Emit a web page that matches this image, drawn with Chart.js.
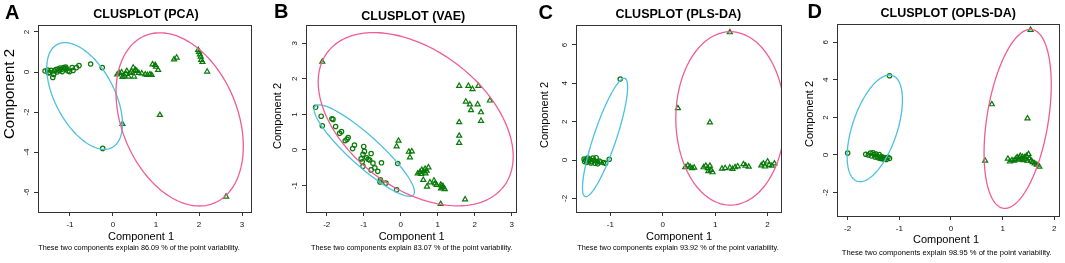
<!DOCTYPE html>
<html>
<head>
<meta charset="utf-8">
<script src="https://cdn.jsdelivr.net/npm/chart.js@4.4.1/dist/chart.umd.min.js"></script>
<style>
  body { margin: 0; background: #fff; }
  #wrap { position: relative; width: 1065px; height: 263px; overflow: hidden; }
  canvas { position: absolute; top: 0; }
</style>
</head>
<body>
<div id="wrap">
  <canvas id="cA" width="265" height="263" style="left:0px"></canvas>
  <canvas id="cB" width="265" height="263" style="left:265px"></canvas>
  <canvas id="cC" width="265" height="263" style="left:530px"></canvas>
  <canvas id="cD" width="270" height="263" style="left:795px"></canvas>
</div>
<script>
// titles and labels
const letters = ["A", "B", "C", "D"];
const titles = ["CLUSPLOT (PCA)", "CLUSPLOT (VAE)", "CLUSPLOT (PLS-DA)", "CLUSPLOT (OPLS-DA)"];
const variability = ["86.09", "83.07", "93.92", "98.95"];

// tick labels
const xTicksA = [-1, 0, 1, 2, 3];
const yTicksA = [2, 0, -2, -4, -6];
const xTicksB = [-2, -1, 0, 1, 2, 3];
const yTicksB = [3, 2, 1, 0, -1];
const xTicksC = [-1, 0, 1, 2];
const yTicksC = [6, 4, 2, 0, -2];
const xTicksD = [-2, -1, 0, 1, 2];
const yTicksD = [6, 4, 2, 0, -2];

// cluster 1 (circles) and cluster 2 (triangles), [component 1, component 2]
const circlesA = [[-1.58,0.05],[-1.52,0.1],[-1.5,-0.05],[-1.47,-0.02],[-1.44,0.08],[-1.4,-0.27],[-1.38,-0.12],[-1.36,0.05],[-1.33,0.12],[-1.3,0.0],[-1.28,0.15],[-1.25,0.08],[-1.23,0.2],[-1.2,0.12],[-1.18,0.02],[-1.15,0.22],[-1.12,0.18],[-1.1,0.25],[-1.08,0.15],[-1.05,0.05],[-1.01,0.02],[-0.95,0.22],[-0.93,0.08],[-0.85,0.22],[-0.79,0.32],[-0.52,0.4],[-0.25,0.22],[-0.24,-3.82]];
const trianglesA = [[0.1,-0.12],[0.15,-0.05],[0.2,-0.02],[0.22,-0.25],[0.26,-0.18],[0.3,-0.1],[0.32,0.05],[0.36,-0.23],[0.4,-0.05],[0.43,0.02],[0.47,0.22],[0.49,-0.23],[0.52,0.1],[0.55,0.05],[0.6,-0.05],[0.67,-0.07],[0.75,-0.12],[0.8,-0.15],[0.86,-0.12],[0.9,-0.15],[0.92,0.38],[0.98,0.35],[1.0,0.27],[1.05,0.1],[1.42,0.63],[1.48,0.72],[1.98,1.1],[2.0,1.0],[2.02,0.88],[2.04,0.77],[2.05,0.6],[2.08,0.5],[2.19,0.02],[1.09,-2.15],[0.22,-2.6],[2.63,-6.23]];

const circlesB = [[-2.3,1.2],[-2.15,0.95],[-2.12,0.68],[-1.86,0.88],[-1.83,0.86],[-1.76,0.66],[-1.65,0.47],[-1.6,0.52],[-1.5,0.26],[-1.45,0.3],[-1.42,0.35],[-1.25,0.14],[-1.3,0.04],[-1.0,0.1],[-0.98,-0.04],[-1.02,-0.12],[-1.07,-0.25],[-1.04,-0.33],[-0.92,-0.22],[-0.88,-0.26],[-0.84,-0.28],[-0.8,-0.1],[-0.75,-0.37],[-0.52,-0.36],[-1.02,-0.46],[-0.8,-0.56],[-0.7,-0.5],[-0.62,-0.6],[-0.55,-0.84],[-0.56,-0.9],[-0.4,-0.93],[-0.08,-0.38],[-0.11,-1.12]];
const trianglesB = [[-2.12,2.48],[-0.06,0.26],[-0.11,0.1],[0.22,-0.05],[0.3,-0.04],[0.25,-0.21],[0.46,-0.66],[0.52,-0.62],[0.57,-0.56],[0.62,-0.6],[0.66,-0.53],[0.7,-0.58],[0.75,-0.49],[0.55,-0.67],[0.67,-0.66],[0.61,-0.84],[0.71,-1.03],[0.79,-0.91],[0.9,-0.86],[0.93,-0.94],[0.97,-0.98],[1.08,-0.98],[1.11,-1.0],[1.13,-1.05],[1.15,-1.03],[1.19,-1.1],[1.09,-1.08],[1.74,-1.39],[1.08,-1.52],[1.58,1.8],[1.83,1.8],[1.94,1.71],[2.1,1.8],[2.41,1.39],[1.76,1.36],[1.87,1.28],[2.08,1.28],[1.9,1.12],[2.17,1.06],[2.17,0.82],[1.58,0.78],[1.58,0.4],[1.58,0.2]];

const circlesC = [[-1.5,0.05],[-1.49,-0.08],[-1.47,0.0],[-1.45,-0.12],[-1.43,0.1],[-1.41,-0.05],[-1.39,0.02],[-1.37,-0.15],[-1.35,-0.08],[-1.33,0.1],[-1.31,-0.02],[-1.29,-0.17],[-1.27,0.12],[-1.25,-0.1],[-1.24,-0.2],[-1.21,-0.05],[-1.19,-0.1],[-1.13,-0.13],[-1.09,-0.17],[-1.02,0.04],[-0.81,4.22]];
const trianglesC = [[1.28,6.66],[0.29,2.7],[0.9,1.96],[0.43,-0.38],[0.48,-0.28],[0.52,-0.35],[0.56,-0.43],[0.6,-0.4],[0.78,-0.38],[0.82,-0.3],[0.86,-0.42],[0.9,-0.3],[0.92,-0.52],[0.95,-0.64],[0.87,-0.58],[1.13,-0.45],[1.19,-0.42],[1.28,-0.4],[1.33,-0.47],[1.38,-0.38],[1.43,-0.33],[1.54,-0.22],[1.58,-0.3],[1.64,-0.35],[1.88,-0.28],[1.92,-0.18],[1.95,-0.34],[2.0,-0.08],[2.03,-0.26],[2.08,-0.3],[2.13,-0.18]];

const circlesD = [[-2.0,0.1],[-1.65,0.04],[-1.6,0.0],[-1.56,0.1],[-1.54,-0.05],[-1.51,0.12],[-1.49,0.02],[-1.47,-0.1],[-1.45,0.05],[-1.43,-0.08],[-1.41,-0.15],[-1.39,0.02],[-1.37,-0.18],[-1.35,-0.08],[-1.33,-0.2],[-1.31,-0.12],[-1.29,-0.22],[-1.27,-0.15],[-1.25,-0.24],[-1.22,-0.12],[-1.19,-0.18],[-1.19,4.22]];
const trianglesD = [[1.54,6.66],[0.79,2.7],[1.48,1.95],[0.66,-0.3],[1.1,-0.2],[1.14,-0.35],[1.18,-0.28],[1.22,-0.3],[1.25,-0.22],[1.28,-0.12],[1.3,-0.25],[1.32,-0.15],[1.34,-0.05],[1.36,-0.2],[1.38,-0.1],[1.4,-0.28],[1.42,-0.12],[1.44,-0.2],[1.46,-0.05],[1.48,-0.3],[1.5,0.05],[1.52,-0.18],[1.55,-0.3],[1.58,-0.38],[1.62,-0.45],[1.66,-0.52],[1.71,-0.62]];

// cluster ellipses: [centre x, centre y, half width x, half height y, tilt]
const ellipsesA = [[-0.66,-1.2,0.88,2.67,-0.52],[1.55,-2.37,1.48,4.33,-0.31]];
const ellipsesB = [[-0.985,-0.015,1.355,1.285,-0.9],[0.405,0.865,2.635,2.435,-0.43]];
const ellipsesC = [[-1.1,1.175,0.43,3.085,0.85],[1.29,2.17,1.04,4.52,0.0]];
const ellipsesD = [[-1.475,1.42,0.535,2.84,0.53],[1.29,1.925,0.65,4.765,0.38]];

const GREEN = "#087a08";
const FONT = '"Liberation Sans", Arial, sans-serif';

// page layout of each panel (pixels)
const panels = [
  { id: "cA", left: 0, w: 265, box: [38, 251, 25, 212], x: [-1.744, 3.209], y: [-7.0, 2.35],
    xt: xTicksA, yt: yTicksA, circ: circlesA, tri: trianglesA, ell: ellipsesA,
    title: [146, 15], letter: [5, 18.5], xlab: [141, 237], ylab: [10, 94, 15], foot: [139, 248, 7.3] },
  { id: "cB", left: 265, w: 265, box: [306, 516, 25, 212], x: [-2.56, 3.116], y: [-1.743, 3.514],
    xt: xTicksB, yt: yTicksB, circ: circlesB, tri: trianglesB, ell: ellipsesB,
    title: [413.3, 16.7], letter: [274, 17.5], xlab: [411.7, 237], ylab: [277.7, 116, 11], foot: [411.7, 248, 7.3] },
  { id: "cC", left: 530, w: 265, box: [576, 781, 25, 212], x: [-1.654, 2.256], y: [-2.71, 7.04],
    xt: xTicksC, yt: yTicksC, circ: circlesC, tri: trianglesC, ell: ellipsesC,
    title: [678.3, 15], letter: [538.5, 18.5], xlab: [679, 237], ylab: [545, 115, 11], foot: [678, 248, 7.3] },
  { id: "cD", left: 795, w: 270, box: [837, 1059, 24, 216], x: [-2.206, 2.09], y: [-3.248, 6.975],
    xt: xTicksD, yt: yTicksD, circ: circlesD, tri: trianglesD, ell: ellipsesD,
    title: [948.3, 13.3], letter: [807.5, 17.5], xlab: [946, 240], ylab: [810, 114, 11], foot: [946.7, 253, 7.6] }
];

// box round the plot region
const boxPlugin = {
  id: "box",
  afterDraw(chart) {
    const { ctx, chartArea: a } = chart;
    ctx.save();
    ctx.strokeStyle = "#333";
    ctx.lineWidth = 1;
    ctx.strokeRect(Math.round(a.left) + 0.5, Math.round(a.top) + 0.5, Math.round(a.width), Math.round(a.height));
    ctx.restore();
  }
};

// ellipses drawn through the chart scales
const ellipsePlugin = {
  id: "ellipses",
  afterDatasetsDraw(chart, args, o) {
    const { ctx, chartArea: a, scales } = chart;
    ctx.save();
    ctx.beginPath();
    ctx.rect(a.left, a.top, a.width, a.height);
    ctx.clip();
    o.list.forEach((e, i) => {
      const [cx, cy, rx, ry, rho] = e;
      const s = Math.sqrt(1 - rho * rho);
      ctx.beginPath();
      for (let k = 0; k <= 180; k++) {
        const t = (k / 180) * 2 * Math.PI;
        const px = scales.x.getPixelForValue(cx + rx * Math.cos(t));
        const py = scales.y.getPixelForValue(cy + ry * (rho * Math.cos(t) + s * Math.sin(t)));
        if (k === 0) ctx.moveTo(px, py);
        else ctx.lineTo(px, py);
      }
      ctx.closePath();
      ctx.strokeStyle = o.colors[i];
      ctx.lineWidth = 1.3;
      ctx.stroke();
    });
    ctx.restore();
  }
};

// titles, letters, axis titles and footnote
const textPlugin = {
  id: "texts",
  afterDraw(chart, args, o) {
    const ctx = chart.ctx;
    const L = o.left;
    ctx.save();
    ctx.fillStyle = "#000";
    ctx.textAlign = "center";
    ctx.textBaseline = "middle";
    ctx.font = "bold 12.5px " + FONT;
    ctx.fillText(o.title, o.p.title[0] - L, o.p.title[1]);
    ctx.font = "11px " + FONT;
    ctx.fillText("Component 1", o.p.xlab[0] - L, o.p.xlab[1]);
    ctx.font = o.p.foot[2] + "px " + FONT;
    ctx.fillText("These two components explain " + o.vari + " % of the point variability.", o.p.foot[0] - L, o.p.foot[1]);
    ctx.save();
    ctx.translate(o.p.ylab[0] - L, o.p.ylab[1]);
    ctx.rotate(-Math.PI / 2);
    ctx.font = o.p.ylab[2] + "px " + FONT;
    ctx.fillText("Component 2", 0, 0);
    ctx.restore();
    ctx.textAlign = "left";
    ctx.textBaseline = "alphabetic";
    ctx.font = "bold 20px " + FONT;
    ctx.fillText(o.letter, o.p.letter[0] - L, o.p.letter[1]);
    ctx.restore();
  }
};

panels.forEach((p, i) => {
  const [bl, br, bt, bb] = p.box;
  new Chart(document.getElementById(p.id), {
    type: "scatter",
    data: {
      datasets: [
        { data: p.circ.map(d => ({ x: d[0], y: d[1] })), pointStyle: "circle", pointRadius: 2.2,
          borderColor: GREEN, backgroundColor: "rgba(0,0,0,0)", borderWidth: 1.2 },
        { data: p.tri.map(d => ({ x: d[0], y: d[1] })), pointStyle: "triangle", pointRadius: 2.9,
          borderColor: GREEN, backgroundColor: "rgba(0,0,0,0)", borderWidth: 1.2 }
      ]
    },
    options: {
      responsive: false,
      animation: false,
      events: [],
      layout: { padding: { left: 0, top: bt, right: p.left + p.w - br, bottom: 0 } },
      plugins: {
        legend: { display: false },
        tooltip: { enabled: false },
        ellipses: { list: p.ell, colors: ["#4fc0e0", "#ef5d96"] },
        texts: { p: p, left: p.left, title: titles[i], letter: letters[i], vari: variability[i] }
      },
      scales: {
        x: {
          type: "linear", min: p.x[0], max: p.x[1],
          afterBuildTicks: s => { s.ticks = p.xt.map(v => ({ value: v })); },
          afterFit: s => { s.height = 263 - bb; },
          grid: { drawOnChartArea: false, drawTicks: true, tickLength: 4, color: "#333" },
          border: { display: true, color: "#333" },
          ticks: { font: { size: 8, family: FONT }, color: "#111", padding: 4, maxRotation: 0, autoSkip: false }
        },
        y: {
          type: "linear", min: p.y[0], max: p.y[1],
          afterBuildTicks: s => { s.ticks = p.yt.map(v => ({ value: v })); },
          afterFit: s => { s.width = bl - p.left; },
          grid: { drawOnChartArea: false, drawTicks: true, tickLength: 4, color: "#333" },
          border: { display: true, color: "#333" },
          ticks: { font: { size: 8, family: FONT }, color: "#111", padding: 4, minRotation: 90, maxRotation: 90,
            crossAlign: "center", autoSkip: false }
        }
      }
    },
    plugins: [boxPlugin, ellipsePlugin, textPlugin]
  });
});
</script>
</body>
</html>
